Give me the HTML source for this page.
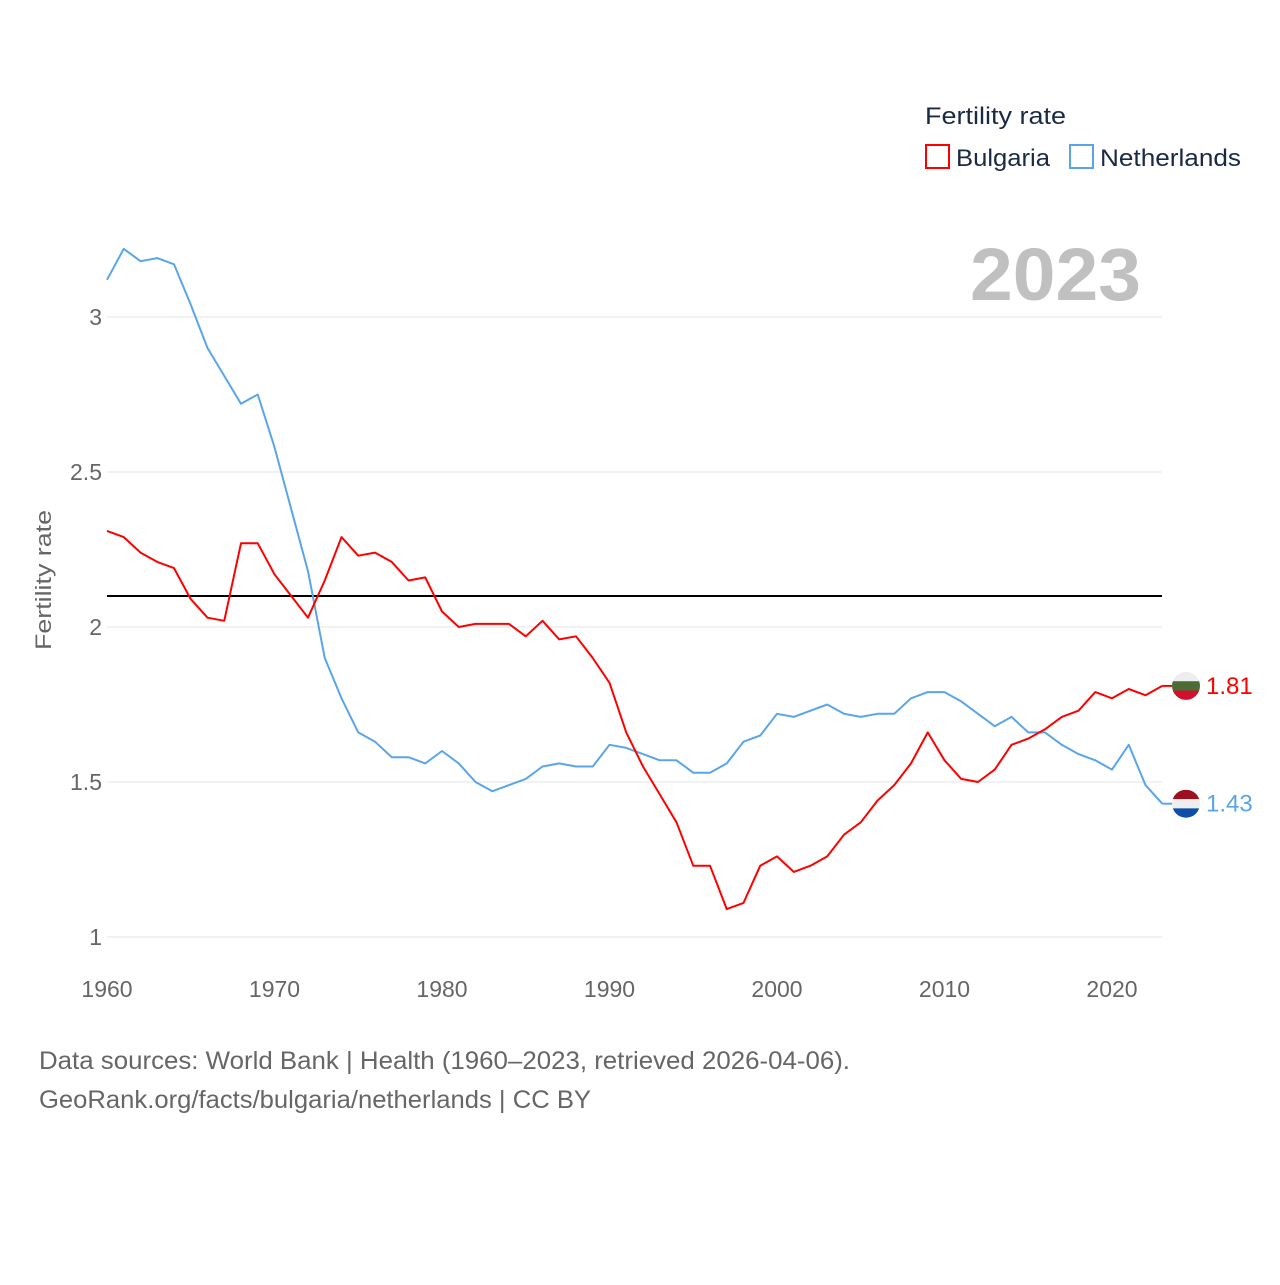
<!DOCTYPE html>
<html><head><meta charset="utf-8"><style>
html,body{margin:0;padding:0;background:#fff;}
body{width:1280px;height:1280px;overflow:hidden;font-family:"Liberation Sans",sans-serif;}
</style></head><body>
<svg id="chart" width="1280" height="1280" xmlns="http://www.w3.org/2000/svg" font-family="Liberation Sans, sans-serif">
<g>
<text x="925" y="124" font-size="24" fill="#1a2a44" textLength="141" lengthAdjust="spacingAndGlyphs">Fertility rate</text>
<rect x="926" y="145" width="23" height="23" fill="none" stroke="#f00" stroke-width="2"/>
<text x="956" y="166" font-size="24" fill="#1a2a44" textLength="94" lengthAdjust="spacingAndGlyphs">Bulgaria</text>
<rect x="1070" y="145" width="23" height="23" fill="none" stroke="#5aa5ea" stroke-width="2"/>
<text x="1100" y="166" font-size="24" fill="#1a2a44" textLength="141" lengthAdjust="spacingAndGlyphs">Netherlands</text>
</g>
<text x="970" y="300" font-size="74" font-weight="bold" fill="#c0c0c0" textLength="171" lengthAdjust="spacingAndGlyphs">2023</text>
<text transform="translate(51,580) rotate(-90)" font-size="22" fill="#666" text-anchor="middle" textLength="140" lengthAdjust="spacingAndGlyphs">Fertility rate</text>
<g id="grid"></g><g id="series"></g>
<text x="39" y="1069" font-size="25" fill="#666" textLength="811" lengthAdjust="spacingAndGlyphs">Data sources: World Bank | Health (1960–2023, retrieved 2026-04-06).</text>
<text x="39" y="1108" font-size="25" fill="#666" textLength="552" lengthAdjust="spacingAndGlyphs">GeoRank.org/facts/bulgaria/netherlands | CC BY</text>
</svg>
<script>
const years = [];
for (let y = 1960; y <= 2023; y++) years.push(y);
const bulgaria = [2.31,2.29,2.24,2.21,2.19,2.09,2.03,2.02,2.27,2.27,2.17,2.10,2.03,2.15,2.29,2.23,2.24,2.21,2.15,2.16,2.05,2.00,2.01,2.01,2.01,1.97,2.02,1.96,1.97,1.90,1.82,1.66,1.55,1.46,1.37,1.23,1.23,1.09,1.11,1.23,1.26,1.21,1.23,1.26,1.33,1.37,1.44,1.49,1.56,1.66,1.57,1.51,1.50,1.54,1.62,1.64,1.67,1.71,1.73,1.79,1.77,1.80,1.78,1.81];
const netherlands = [3.12,3.22,3.18,3.19,3.17,3.04,2.90,2.81,2.72,2.75,2.58,2.38,2.18,1.90,1.77,1.66,1.63,1.58,1.58,1.56,1.60,1.56,1.50,1.47,1.49,1.51,1.55,1.56,1.55,1.55,1.62,1.61,1.59,1.57,1.57,1.53,1.53,1.56,1.63,1.65,1.72,1.71,1.73,1.75,1.72,1.71,1.72,1.72,1.77,1.79,1.79,1.76,1.72,1.68,1.71,1.66,1.66,1.62,1.59,1.57,1.54,1.62,1.49,1.43];
const yTicks = [1, 1.5, 2, 2.5, 3];
const yTickLabels = ["1", "1.5", "2", "2.5", "3"];
const xTicks = [1960, 1970, 1980, 1990, 2000, 2010, 2020];
const referenceValue = 2.1;

const NS = "http://www.w3.org/2000/svg";
const xS = v => 107 + (v - 1960) * (1112 - 107) / 60;
const yS = v => 937 - (v - 1) * 310;
const grid = document.getElementById('grid'), ser = document.getElementById('series');
function mk(tag, attrs, parent, txt) {
  const e = document.createElementNS(NS, tag);
  for (const k in attrs) e.setAttribute(k, attrs[k]);
  if (txt !== undefined) e.textContent = txt;
  parent.appendChild(e);
  return e;
}
yTicks.forEach((t, i) => {
  const l = mk('line', {x1: 107, x2: 1162, y1: yS(t), y2: yS(t), stroke: '#e6e6e6', 'stroke-width': 1}, grid);
  
  
  const tx = mk('text', {x: 102, y: yS(t) + 8, 'font-size': 23, fill: '#666', 'text-anchor': 'end'}, grid, yTickLabels[i]);
  
  
});
xTicks.forEach(t => {
  const tx = mk('text', {x: xS(t), y: 997, 'font-size': 23, fill: '#666', 'text-anchor': 'middle'}, grid, String(t));
  
  
});
const ref = mk('line', {x1: 107, x2: 1162, y1: yS(referenceValue), y2: yS(referenceValue), stroke: '#000', 'stroke-width': 2}, ser);


function drawLine(vals, color, name) {
  const d = vals.map((v, i) => (i ? 'L' : 'M') + xS(years[i]).toFixed(2) + ',' + yS(v).toFixed(2)).join('');
  const p = mk('path', {d: d, fill: 'none', stroke: color, 'stroke-width': 2, 'stroke-linejoin': 'round'}, ser);
  
  
}
drawLine(netherlands, '#5aa5ea', 'line-netherlands');
drawLine(bulgaria, '#f00', 'line-bulgaria');
function flag(val, colors, name, color, label) {
  const cx = 1186, cy = yS(val), r = 14;
  const x0 = xS(years[years.length - 1]);
  const con = mk('line', {x1: x0, x2: cx - r, y1: cy, y2: cy, stroke: color, 'stroke-width': 2}, ser);
  
  
  const g = mk('g', {}, ser);
  
  
  const id = 'clip-' + name;
  const cp = mk('clipPath', {id: id}, g);
  mk('circle', {cx: cx, cy: cy, r: r}, cp);
  colors.forEach((c, i) => mk('rect', {x: cx - r, y: cy - r + i * 2 * r / 3, width: 2 * r, height: 2 * r / 3 + 0.5, fill: c, 'clip-path': 'url(#' + id + ')'}, g));
  const t = mk('text', {x: 1206, y: cy + 8, 'font-size': 24, fill: color}, ser, label);
  
  
}
flag(bulgaria[bulgaria.length - 1], ['#eeeeee', '#4d6b35', '#d2102d'], 'bulgaria', '#f00', bulgaria[bulgaria.length - 1].toFixed(2));
flag(netherlands[netherlands.length - 1], ['#9e1020', '#eeeeee', '#0d4fa6'], 'netherlands', '#5aa5ea', netherlands[netherlands.length - 1].toFixed(2));
</script>
</body></html>
